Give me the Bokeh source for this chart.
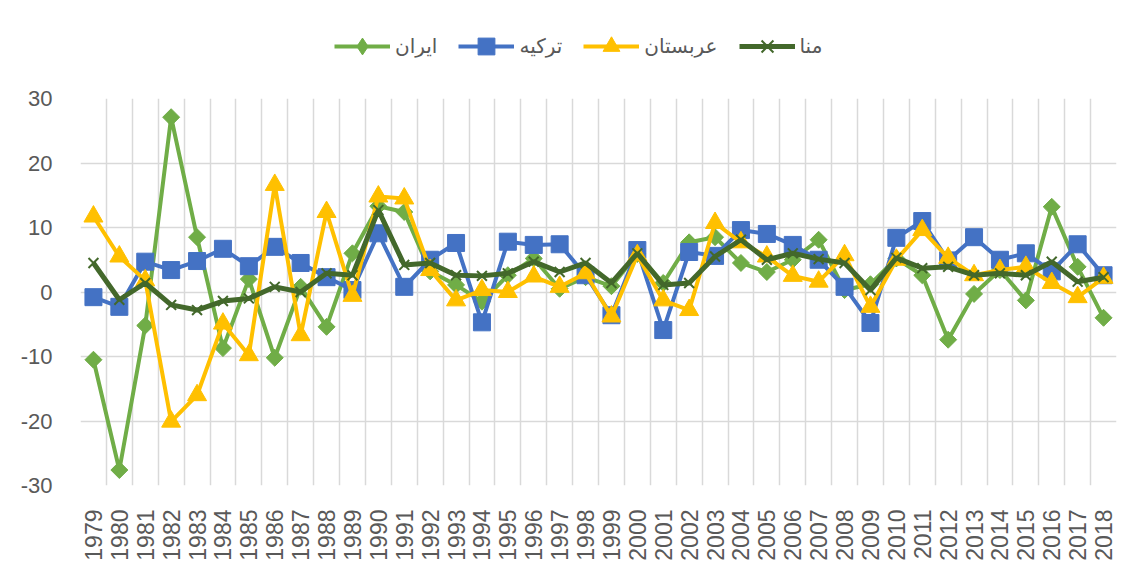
import math
from bokeh.plotting import figure
from bokeh.layouts import column
from bokeh.models import FixedTicker, Range1d, Legend, LegendItem, ColumnDataSource
from bokeh.embed import file_html
from bokeh.resources import INLINE

years = [str(y) for y in range(1979, 2019)]
iran = [-10.5, -27.6, -5.2, 27.1, 8.5, -8.7, 2.0, -10.2, 0.8, -5.4,
        6.0, 13.3, 12.4, 3.2, 1.1, -1.5, 2.6, 5.2, 0.5, 2.3,
        0.9, 5.9, 1.4, 7.7, 8.5, 4.5, 3.1, 5.0, 8.1, 0.3,
        1.2, 5.2, 2.6, -7.4, -0.3, 3.4, -1.3, 13.2, 3.9, -4.0]
turkey = [-0.8, -2.3, 4.7, 3.4, 4.8, 6.7, 4.0, 7.0, 4.5, 2.3,
          0.3, 9.1, 0.8, 5.0, 7.6, -4.7, 7.8, 7.3, 7.4, 2.6,
          -3.6, 6.5, -5.9, 6.2, 5.6, 9.6, 9.0, 7.3, 5.0, 0.8,
          -4.8, 8.4, 11.0, 4.9, 8.5, 5.0, 6.0, 3.2, 7.4, 2.6]
saudi = [11.7, 5.5, 1.8, -20.1, -16.0, -4.9, -9.8, 16.6, -6.7, 12.4,
         -0.6, 14.8, 14.5, 3.4, -1.3, 0.3, 0.0, 2.4, 0.8, 2.9,
         -3.8, 5.7, -1.3, -2.8, 10.7, 7.7, 5.5, 2.5, 1.6, 5.7,
         -2.3, 5.0, 9.6, 5.3, 2.6, 3.4, 3.9, 1.4, -0.8, 2.2]
mena = [4.5, -1.2, 1.4, -2.0, -2.8, -1.4, -1.0, 0.8, 0.0, 2.9,
        2.6, 12.7, 4.2, 4.5, 2.6, 2.5, 2.9, 4.7, 3.1, 4.5,
        1.4, 6.0, 1.1, 1.4, 5.5, 8.1, 5.0, 6.0, 5.1, 4.5,
        0.3, 5.3, 3.7, 3.9, 2.6, 2.9, 2.6, 4.7, 1.6, 2.3]
y_ticks = [-30, -20, -10, 0, 10, 20, 30]
y_labels = ["-30", "-20", "-10", "0", "10", "20", "30"]
names = ["ایران", "ترکیه", "عربستان", "منا"]

xs = [i + 0.5 for i in range(len(years))]

grid_color = "#d9d9d9"
label_color = "#595959"

# main chart
p = figure(width=1126, height=489, output_backend="svg", toolbar_location=None,
           x_range=Range1d(0, len(years)), y_range=Range1d(-30, 30),
           min_border_left=80, min_border_right=10, min_border_top=20, min_border_bottom=82)
p.outline_line_color = None

p.xaxis.ticker = FixedTicker(ticks=xs)
p.xaxis.major_label_overrides = {x: y for x, y in zip(xs, years)}
p.xaxis.major_label_orientation = math.pi / 2
p.xaxis.major_tick_line_color = None
p.xaxis.minor_tick_line_color = None
p.xaxis.axis_line_color = None
p.xaxis.major_label_text_font = "Liberation Sans"
p.xaxis.major_label_text_font_size = "23px"
p.xaxis.major_label_text_color = label_color
p.xaxis.major_label_standoff = 18

p.yaxis.ticker = FixedTicker(ticks=y_ticks)
p.yaxis.major_label_overrides = {t: s for t, s in zip(y_ticks, y_labels)}
p.yaxis.axis_line_color = None
p.yaxis.major_tick_line_color = None
p.yaxis.minor_tick_line_color = None
p.yaxis.major_label_text_font = "Liberation Sans"
p.yaxis.major_label_text_font_size = "22px"
p.yaxis.major_label_text_color = label_color
p.yaxis.major_label_standoff = 22

p.xgrid.ticker = FixedTicker(ticks=list(range(len(years) + 1)))
p.xgrid.grid_line_color = grid_color
p.xgrid.grid_line_width = 1.5
p.ygrid.ticker = FixedTicker(ticks=y_ticks[1:-1])
p.ygrid.grid_line_color = grid_color
p.ygrid.grid_line_width = 1.5

# legend strip (its ranges lie outside the data, so only the legend shows)
lg = figure(width=1126, height=78, output_backend="svg", toolbar_location=None,
            x_range=Range1d(-200, -199), y_range=Range1d(-200, -199),
            x_axis_location=None, y_axis_location=None,
            min_border_left=0, min_border_right=0, min_border_top=0, min_border_bottom=0)
lg.outline_line_color = None
lg.grid.visible = False

series = [
    (iran, "#70AD47", 4, dict(marker="square", size=12, angle=math.pi / 4), "diamond"),
    (turkey, "#4472C4", 4, dict(marker="square", size=17), "square"),
    (saudi, "#FFC000", 4, dict(marker="triangle", size=19), "triangle"),
    (mena, "#43682B", 5, dict(marker="x", size=14, line_width=2), "x"),
]

items = []
for (vals, color, lw, mk, lg_marker), name in zip(series, names):
    src = ColumnDataSource(dict(x=xs, y=vals))
    kw = dict(mk)
    lwm = kw.pop("line_width", 1)
    p.line("x", "y", source=src, line_color=color, line_width=lw)
    p.scatter("x", "y", source=src, fill_color=color, line_color=color,
              line_width=lwm, **kw)
    l1 = lg.line("x", "y", source=src, line_color=color, line_width=lw)
    l2 = lg.scatter("x", "y", source=src, marker=lg_marker, size=10,
                    fill_color=color, line_color=color, line_width=lwm)
    items.append(LegendItem(label=name, renderers=[l1, l2]))

legend = Legend(items=items, orientation="horizontal", location=(254, 11),
                label_text_font="DejaVu Sans", label_text_font_size="20px",
                label_text_color=label_color, glyph_width=56, glyph_height=42,
                spacing=21, label_standoff=5, border_line_color=None,
                background_fill_alpha=0, padding=0, margin=0)
lg.add_layout(legend, "center")

layout = column(lg, p, spacing=0)
open("out.html", "w").write(file_html(layout, INLINE))
